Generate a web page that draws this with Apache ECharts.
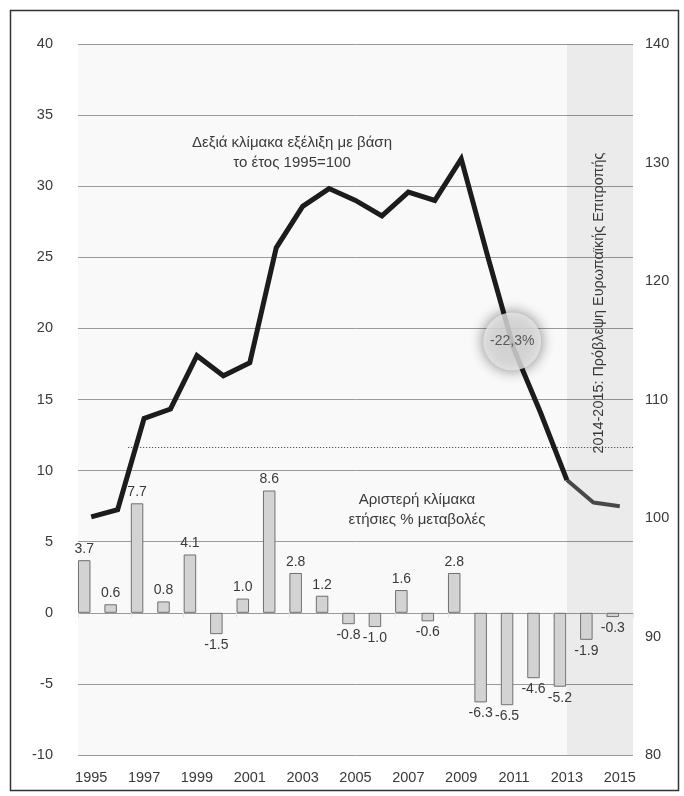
<!DOCTYPE html>
<html><head><meta charset="utf-8">
<script src="https://cdn.jsdelivr.net/npm/echarts@6/dist/echarts.min.js"></script>
<style>html,body{margin:0;padding:0;background:#fff}#c{width:684px;height:796px}</style>
</head><body><div id="c"></div>
<script>
const years = ['1995','1996','1997','1998','1999','2000','2001','2002','2003','2004','2005','2006','2007','2008','2009','2010','2011','2012','2013','2014','2015'];
const annualChange = [3.7,0.6,7.7,0.8,4.1,-1.5,1.0,8.6,2.8,1.2,-0.8,-1.0,1.6,-0.6,2.8,-6.3,-6.5,-4.6,-5.2,-1.9,-0.3];
const indexHistory = [100.1,100.7,108.4,109.2,113.7,112.0,113.1,122.8,126.3,127.8,126.8,125.5,127.5,126.8,130.3,122.1,114.2,108.9,103.2,'-','-'];
const indexForecast = ['-','-','-','-','-','-','-','-','-','-','-','-','-','-','-','-','-','-',103.2,101.3,101.0];
const leftTicks = {min:-10, max:40, interval:5};
const rightTicks = {min:80, max:140, interval:10};
const forecastStart = 18;      // index of 2013
const refLevel = 106;          // dotted reference level (right scale)
const refStart = 1.4;
const bubble = {x:15.93, y:114.9, text:'-22,3%'};

const FONT = 'Liberation Sans';
const TXT = '#3a3a3a';
const chart = echarts.init(document.getElementById('c'), null, {renderer:'canvas'});
chart.setOption({
  animation:false,
  textStyle:{fontFamily:FONT},
  grid:{left:78, right:51, top:44, bottom:41, show:true, backgroundColor:'#f9f9f9', borderWidth:0},
  xAxis:[
    {type:'category', data:years, boundaryGap:true,
     axisLine:{show:false}, axisTick:{show:true, lineStyle:{color:'#e2e2e2'}},
     axisLabel:{interval:1, color:TXT, fontSize:14.5, margin:15, fontFamily:FONT}},
    {type:'value', min:-0.5, max:20.5, show:false}
  ],
  yAxis:[
    {type:'value', min:leftTicks.min, max:leftTicks.max, interval:leftTicks.interval,
     axisLine:{show:false}, axisTick:{show:false},
     axisLabel:{color:TXT, fontSize:14.5, margin:25, fontFamily:FONT},
     splitLine:{lineStyle:{color:'#9a9a9a', width:1}}},
    {type:'value', min:rightTicks.min, max:rightTicks.max, interval:rightTicks.interval,
     axisLine:{show:false}, axisTick:{show:false},
     axisLabel:{color:TXT, fontSize:14.5, margin:12, fontFamily:FONT},
     splitLine:{show:false}}
  ],
  series:[
    {type:'line', xAxisIndex:1, yAxisIndex:1, data:[], z:1, silent:true,
     markArea:{silent:true, itemStyle:{color:'rgba(0,0,0,0.055)'},
       data:[[{coord:[forecastStart, rightTicks.min]},{coord:[20.5, rightTicks.max]}]]},
     markLine:{silent:true, symbol:'none', label:{show:false},
       lineStyle:{color:'#333', type:[1,2], width:1},
       data:[[{coord:[refStart, refLevel]},{coord:[20.5, refLevel]}]]}},
    {type:'bar', xAxisIndex:0, yAxisIndex:0,
     data:annualChange.map(v=>({value:v, label:{position: v<0?'bottom':'top'}})),
     barWidth:12.5, barGap:'12%',
     itemStyle:{color:'#d3d3d3', borderColor:'#707070', borderWidth:1},
     label:{show:true, color:TXT, fontSize:14, fontFamily:FONT, distance:4,
       formatter:p=>p.value.toFixed(1)},
     labelLayout:{hideOverlap:false},
     z:3},
    {type:'bar', xAxisIndex:0, yAxisIndex:0, data:[], barWidth:12.5},
    {type:'line', xAxisIndex:0, yAxisIndex:1, data:indexHistory, symbol:'none',
     lineStyle:{color:'#1c1c1c', width:5, join:'miter'}, z:5},
    {type:'line', xAxisIndex:0, yAxisIndex:1, data:indexForecast, symbol:'none',
     lineStyle:{color:'#484848', width:4}, z:4},
    {type:'scatter', xAxisIndex:1, yAxisIndex:1, data:[[bubble.x, bubble.y]], symbolSize:58, z:10,
     itemStyle:{color:'#e6e6e6', shadowBlur:14, shadowColor:'rgba(0,0,0,0.6)'},
     label:{show:true, position:'inside', formatter:bubble.text, color:TXT, fontSize:14, fontFamily:FONT}}
  ],
  graphic:[
    {type:'rect', left:8, top:8, shape:{width:668, height:780}, style:{fill:'none', stroke:'#333', lineWidth:1.5}, z:100, silent:true},
    {type:'text', x:292, y:153, style:{text:'Δεξιά κλίμακα εξέλιξη με βάση\nτο έτος 1995=100', fill:TXT, font:'15px '+FONT, align:'center', verticalAlign:'middle', lineHeight:20}, z:50},
    {type:'text', x:417, y:510, style:{text:'Αριστερή κλίμακα\nετήσιες % μεταβολές', fill:TXT, font:'15px '+FONT, align:'center', verticalAlign:'middle', lineHeight:20}, z:50},
    {type:'text', x:599, y:303, rotation:Math.PI/2, style:{text:'2014-2015: Πρόβλεψη Ευρωπαϊκής Επιτροπής', fill:TXT, font:'14.4px '+FONT, align:'center', verticalAlign:'middle'}, z:50}
  ]
});
</script></body></html>
